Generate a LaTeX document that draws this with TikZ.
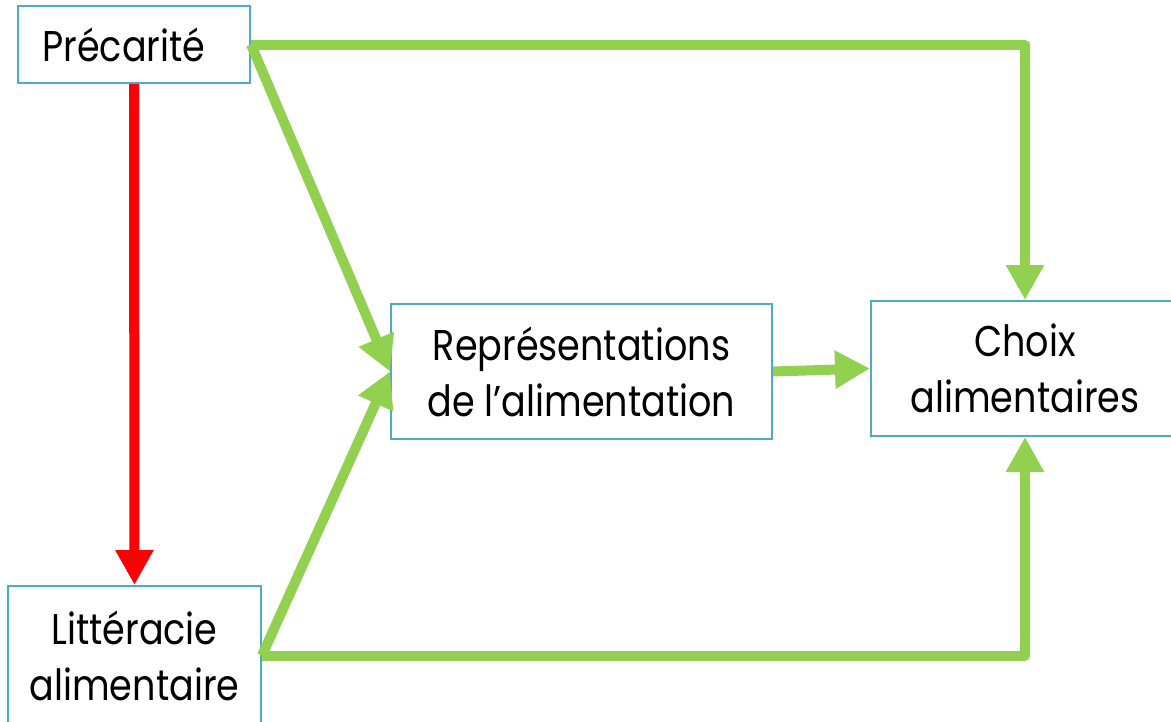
\documentclass[tikz,border=0pt]{standalone}
\usepackage{fontspec}
\setmainfont{Poppins}[FakeStretch=0.85]
\usetikzlibrary{arrows.meta}
\definecolor{boxline}{RGB}{75,172,198}
\definecolor{grn}{RGB}{146,208,80}
\definecolor{rd}{RGB}{255,0,0}
\begin{document}
\begin{tikzpicture}[x=1pt,y=-1pt,
  box/.style={draw=boxline,line width=2pt,fill=white,align=center,inner sep=0pt,
    font=\fontsize{43}{56}\selectfont},
  conn/.style={line width=10pt,line join=round,-{Triangle[width=36pt,length=35pt]}},
  gconn/.style={conn,draw=grn},
  rconn/.style={conn,draw=rd}]
\useasboundingbox (0,0) rectangle (1171,721);
\node[box,minimum width=232pt,minimum height=77pt] (P) at (134,44.5) {Précarité\hspace*{20pt}};
\node[box,minimum width=253pt,minimum height=139pt] (L) at (134.5,655.5) {Littéracie\\alimentaire};
\node[box,minimum width=381pt,minimum height=135pt] (R) at (581.5,371.5) {Représentations\\de l’alimentation};
\node[box,minimum width=308pt,minimum height=135pt] (C) at (1025,368.5) {Choix\\alimentaires};
\draw[rconn] (P.south) -- (L.north);
\draw[gconn] (P.east) -- (R.west);
\draw[gconn] (L.east) -- (R.west);
\draw[gconn] (R.east) -- (C.west);
\draw[gconn] (P.east) -| (C.north);
\draw[gconn] (L.east) -| (C.south);
\end{tikzpicture}
\end{document}
